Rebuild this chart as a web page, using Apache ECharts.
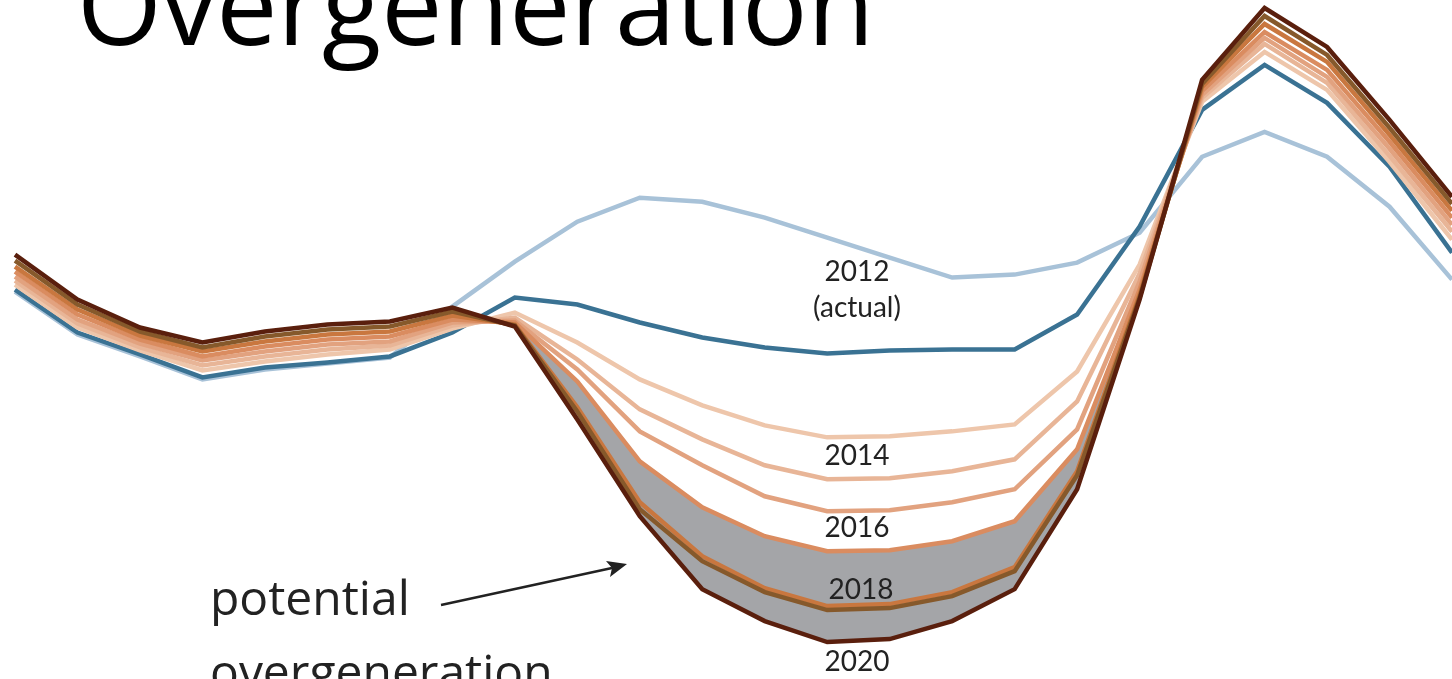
<!DOCTYPE html>
<html>
<head>
<meta charset="utf-8">
<script src="https://cdn.jsdelivr.net/npm/echarts@6/dist/echarts.min.js"></script>
<style>
html,body{margin:0;padding:0;background:#fff;}
#chart{width:1452px;height:679px;}
</style>
</head>
<body>
<div id="chart"></div>
<script>
// Hours of the day (x categories)
const hours = ['0:00','1:00','2:00','3:00','4:00','5:00','6:00','7:00','8:00','9:00','10:00','11:00',
  '12:00','13:00','14:00','15:00','16:00','17:00','18:00','19:00','20:00','21:00','22:00','23:00'];

// Net load (MW)
const load2012 = [19700,18625,18075,17500,17750,17900,18050,19325,20450,21450,22050,21950,21550,21050,20550,20050,20125,20425,21175,23075,23700,23075,21825,20000];
const load2013 = [19750,18675,18125,17550,17800,17925,18075,18675,19550,19375,18925,18550,18300,18150,18225,18250,18250,19125,21325,24250,25375,24425,22825,20675];
const load2014 = [19875,18800,18225,17725,17950,18125,18250,18775,19175,18425,17500,16850,16350,16050,16075,16200,16375,17700,20375,24450,25700,24750,22950,21000];
const load2015 = [19975,18900,18300,17850,18075,18250,18350,18850,19050,18000,16750,16000,15350,15000,15025,15200,15500,16950,20150,24550,25900,24925,23100,21200];
const load2016 = [20075,19000,18400,17975,18200,18375,18450,18925,18975,17750,16200,15350,14575,14200,14225,14425,14750,16250,19950,24625,26050,25075,23275,21375];
const load2017 = [20200,19125,18500,18075,18325,18500,18575,19000,18925,17450,15450,14300,13575,13200,13225,13450,13950,15750,19750,24725,26200,25250,23450,21550];
const load2018 = [20325,19250,18600,18200,18450,18625,18700,19100,18875,16800,14425,13075,12275,11825,11875,12175,12800,15200,19625,24825,26400,25450,23625,21725];
const load2019 = [20475,19375,18700,18300,18575,18750,18825,19200,18850,16700,14250,12950,12175,11725,11775,12075,12700,15100,19550,24900,26600,25625,23800,21900];
const load2020 = [20625,19500,18800,18425,18700,18875,18950,19300,18825,16500,14075,12250,11450,10925,11000,11450,12250,14750,19500,25000,26800,25825,24000,22075];

const yearNames = ['2012','2013','2014','2015','2016','2017','2018','2019','2020'];
const labelYears = ['2014','2016','2018','2020'];

const allLoads = [load2012,load2013,load2014,load2015,load2016,load2017,load2018,load2019,load2020];
const colors = ['#a8c2d8','#3a7293','#eec6ab','#e8b597','#e2a27f','#da8c60','#c9773f','#86592b','#5a1f0d'];
const widths = [4.5,4.5,4.5,4.5,4.5,4.5,4.5,4.5,4.5];

// potential overgeneration band: between 2017 and 2020 where 2017 is above
const band = load2017.map((v, i) => Math.max(0, v - load2020[i]));

const series = [
  {
    name: 'base', type: 'line', stack: 'og', data: load2020, symbol: 'none',
    lineStyle: { width: 0, opacity: 0 }, silent: true, z: 1
  },
  {
    name: 'potential overgeneration', type: 'line', stack: 'og', data: band, symbol: 'none',
    lineStyle: { width: 0, opacity: 0 }, areaStyle: { color: '#a4a5a8', opacity: 1 }, silent: true, z: 1
  }
];
allLoads.forEach((d, i) => {
  series.push({
    name: yearNames[i], type: 'line', data: d, symbol: 'none', z: 2 + i,
    lineStyle: { color: colors[i], width: widths[i], join: 'miter', cap: 'butt' },
    emphasis: { disabled: true }
  });
});

const labFont = 'Lato, "Open Sans", sans-serif';
const bigFont = '"Open Sans", "Noto Sans", sans-serif';
function label(text, x, y, size) {
  return { type: 'text', x: x, y: y, z: 100,
    style: { text: text, fill: '#222', font: 'normal ' + size + 'px ' + labFont,
      align: 'center', verticalAlign: 'middle', textAlign: 'center', textVerticalAlign: 'middle' } };
}

const chart = echarts.init(document.getElementById('chart'), null, { renderer: 'canvas' });
chart.setOption({
  animation: false,
  backgroundColor: '#ffffff',
  grid: { left: 15, right: 0, top: 0, bottom: -1, containLabel: false },
  xAxis: { type: 'category', data: hours, boundaryGap: false, show: false },
  yAxis: { type: 'value', min: 10000, max: 27000, show: false },
  series: series,
  graphic: [
    { type: 'text', x: 77, y: 14, z: 100,
      style: { text: 'Overgeneration', fill: '#000', font: 'normal 109px ' + bigFont,
        align: 'left', verticalAlign: 'middle', textAlign: 'left', textVerticalAlign: 'middle' } },
    label('2012', 857, 272, 28),
    label('(actual)', 857, 308, 28),
    label(labelYears[0], 857, 456, 28),
    label(labelYears[1], 857, 528, 28),
    label(labelYears[2], 861, 590, 28),
    label(labelYears[3], 857, 662, 28),
    { type: 'text', x: 210, y: 601, z: 100,
      style: { text: 'potential', fill: '#222', font: 'normal 48px ' + bigFont,
        align: 'left', verticalAlign: 'middle', textAlign: 'left', textVerticalAlign: 'middle' } },
    { type: 'text', x: 210, y: 675, z: 100,
      style: { text: 'overgeneration', fill: '#222', font: 'normal 48px ' + bigFont,
        align: 'left', verticalAlign: 'middle', textAlign: 'left', textVerticalAlign: 'middle' } },
    { type: 'line', z: 100, shape: { x1: 441, y1: 605, x2: 612, y2: 568 },
      style: { stroke: '#222', lineWidth: 2.5 } },
    { type: 'polygon', z: 100, shape: { points: [[627, 564], [606, 561], [612, 568], [610, 577]] },
      style: { fill: '#222' } }
  ]
});
</script>
</body>
</html>
